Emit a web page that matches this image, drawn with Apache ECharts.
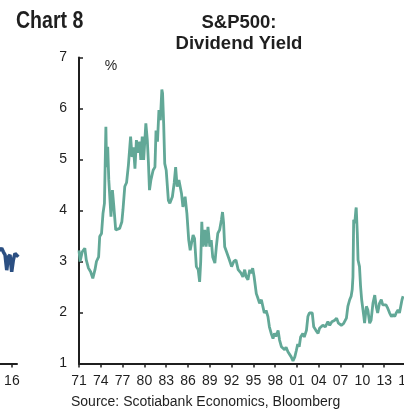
<!DOCTYPE html>
<html>
<head>
<meta charset="utf-8">
<script src="https://cdn.jsdelivr.net/npm/echarts@6/dist/echarts.min.js"></script>
<style>
  html, body { margin: 0; padding: 0; background: #ffffff; }
  #chart { width: 404px; height: 409px; }
</style>
</head>
<body>
<div id="chart"></div>
<script>
// S&P500 dividend yield, % (year as decimal, value)
const yieldYears = [
  1971.0, 1971.15, 1971.45, 1971.8, 1972.0, 1972.3, 1972.6, 1972.9, 1973.2, 1973.4,
  1973.7, 1973.85, 1974.1, 1974.3, 1974.5, 1974.7, 1974.8, 1974.95, 1975.1, 1975.4,
  1975.6, 1975.8, 1976.05, 1976.3, 1976.6, 1976.9, 1977.05, 1977.3, 1977.55, 1977.8,
  1978.1, 1978.3, 1978.5, 1978.7, 1978.9, 1979.2, 1979.35, 1979.5, 1979.7, 1979.9,
  1980.2, 1980.4, 1980.55, 1980.7, 1980.9, 1981.2, 1981.45, 1981.6, 1981.8, 1982.0,
  1982.2, 1982.4, 1982.5, 1982.65, 1982.8, 1983.0, 1983.3, 1983.5, 1983.85, 1984.1,
  1984.3, 1984.5, 1984.75, 1985.1, 1985.3, 1985.6, 1985.85, 1986.1, 1986.3, 1986.7,
  1986.9, 1987.15, 1987.4, 1987.6, 1987.75, 1987.9, 1988.05, 1988.3, 1988.5, 1988.75,
  1989.0, 1989.2, 1989.4, 1989.7, 1989.9, 1990.1, 1990.35, 1990.6, 1990.75, 1990.9,
  1991.05, 1991.3, 1991.5, 1991.7, 1992.0, 1992.3, 1992.6, 1992.9, 1993.1, 1993.3,
  1993.55, 1993.8, 1994.0, 1994.25, 1994.5, 1994.7, 1994.9, 1995.1, 1995.4, 1995.6,
  1995.85, 1996.1, 1996.3, 1996.5, 1996.75, 1997.0, 1997.2, 1997.45, 1997.7, 1997.9,
  1998.1, 1998.4, 1998.6, 1998.85, 1999.05, 1999.3, 1999.5, 1999.75, 2000.0, 2000.2,
  2000.45, 2000.7, 2000.9, 2001.1, 2001.3, 2001.5, 2001.8, 2002.0, 2002.3, 2002.5,
  2002.7, 2002.9, 2003.1, 2003.3, 2003.6, 2003.9, 2004.1, 2004.3, 2004.55, 2004.9,
  2005.25, 2005.5, 2005.8, 2006.0, 2006.2, 2006.45, 2006.7, 2006.9, 2007.1, 2007.4,
  2007.6, 2007.8, 2008.0, 2008.25, 2008.45, 2008.6, 2008.7, 2008.8, 2008.95, 2009.1,
  2009.15, 2009.3, 2009.4, 2009.6, 2009.75, 2009.9, 2010.2, 2010.3, 2010.55, 2010.75,
  2011.0, 2011.2, 2011.45, 2011.7, 2011.9, 2012.1, 2012.35, 2012.6, 2012.8, 2013.0,
  2013.25, 2013.5, 2013.75, 2014.0, 2014.2, 2014.45, 2014.65, 2014.9, 2015.1, 2015.3,
  2015.45, 2015.6
];
const yieldValues = [
  3.22, 3.00, 3.19, 3.26, 3.03, 2.87, 2.80, 2.67, 2.84, 3.00,
  3.09, 3.49, 3.55, 3.94, 4.14, 5.64, 4.85, 5.25, 4.60, 3.88,
  4.40, 4.07, 3.62, 3.59, 3.65, 3.78, 4.01, 4.47, 4.55, 4.89,
  5.45, 5.05, 5.24, 4.82, 5.38, 5.13, 5.35, 4.99, 5.45, 4.99,
  5.71, 5.38, 4.95, 4.40, 4.60, 4.79, 4.85, 5.57, 5.35, 5.97,
  5.77, 6.37, 6.30, 5.71, 4.92, 4.79, 4.20, 4.14, 4.27, 4.54,
  4.85, 4.47, 4.60, 4.34, 4.07, 4.27, 3.94, 3.42, 3.22, 3.52,
  3.45, 2.90, 2.84, 2.60, 3.00, 3.78, 3.29, 3.62, 3.29, 3.68,
  3.29, 3.42, 3.09, 2.97, 3.29, 3.55, 3.62, 3.82, 3.97, 3.75,
  3.29, 3.19, 3.22, 3.03, 2.90, 3.00, 3.03, 2.84, 2.83, 2.77,
  2.70, 2.84, 2.70, 2.64, 2.84, 2.77, 2.87, 2.70, 2.37, 2.29,
  2.18, 2.25, 2.12, 1.99, 2.04, 1.92, 1.72, 1.59, 1.49, 1.59,
  1.53, 1.65, 1.46, 1.33, 1.35, 1.27, 1.32, 1.23, 1.20, 1.13,
  1.05, 1.13, 1.25, 1.38, 1.33, 1.52, 1.59, 1.52, 1.65, 1.92,
  1.99, 1.96, 1.99, 1.72, 1.65, 1.59, 1.69, 1.66, 1.75, 1.72,
  1.82, 1.75, 1.82, 1.79, 1.85, 1.89, 1.79, 1.82, 1.75, 1.78,
  1.76, 1.89, 2.12, 2.25, 2.32, 2.45, 2.70, 3.82, 3.75, 4.01,
  4.06, 3.55, 3.03, 2.90, 2.51, 2.25, 1.92, 1.79, 2.12, 2.05,
  1.79, 1.85, 2.18, 2.34, 2.12, 1.99, 2.18, 2.25, 2.15, 2.12,
  2.15, 2.08, 1.99, 1.92, 1.96, 1.92, 1.99, 2.05, 1.99, 2.02,
  2.25, 2.32
];

// Tail of the neighbouring panel's series (left edge of the page)
const prevYears  = [2014.0, 2014.25, 2014.5, 2014.74, 2014.99, 2015.24, 2015.47, 2015.72, 2015.97, 2016.21, 2016.46, 2016.71, 2016.94];
const prevValues = [3.20, 3.23, 3.26, 3.19, 3.13, 2.83, 3.09, 3.13, 2.80, 3.03, 3.16, 3.19, 3.09];

// Axis settings
const yMin = 1, yMax = 7, yStep = 1;
const xMin = 1971, xMax = 2016, xStep = 3;

const FONT = '"Liberation Sans", Arial, sans-serif';
const INK = '#1f1f1f';

const chart = echarts.init(document.getElementById('chart'), null, { renderer: 'canvas' });

chart.setOption({
  animation: false,
  backgroundColor: '#ffffff',
  grid: [
    { left: 79, top: 57.5, width: 327, height: 306, containLabel: false, outerBoundsMode: 'none' },
    { left: 0, top: 57.5, width: 17, height: 306, containLabel: false, outerBoundsMode: 'none' }
  ],
  xAxis: [
    {
      gridIndex: 0,
      type: 'value',
      min: xMin, max: xMax, interval: xStep,
      axisLine: { show: true, lineStyle: { color: INK, width: 2 } },
      axisTick: { show: true, inside: false, length: 4, lineStyle: { color: INK, width: 1.5 } },
      axisLabel: {
        show: true, margin: 11, color: INK, fontSize: 14, fontFamily: FONT,
        showMinLabel: true, showMaxLabel: true, hideOverlap: false,
        formatter: v => String(Math.round(v)).slice(2)
      },
      splitLine: { show: false }
    },
    {
      gridIndex: 1,
      type: 'value',
      min: 2014.25, max: 2016.75,
      axisLine: { show: true, lineStyle: { color: INK, width: 2 } },
      axisTick: { show: true, inside: false, length: 4, customValues: [2016], lineStyle: { color: INK, width: 1.5 } },
      axisLabel: {
        show: true, margin: 11, color: INK, fontSize: 14, fontFamily: FONT,
        customValues: [2016],
        formatter: v => String(Math.round(v)).slice(2)
      },
      splitLine: { show: false }
    }
  ],
  yAxis: [
    {
      gridIndex: 0,
      type: 'value',
      min: yMin, max: yMax, interval: yStep,
      axisLine: { show: true, lineStyle: { color: INK, width: 2 } },
      axisTick: { show: true, inside: true, length: 4, lineStyle: { color: INK, width: 1.5 } },
      axisLabel: { show: true, margin: 12, color: INK, fontSize: 14, fontFamily: FONT },
      splitLine: { show: false }
    },
    {
      gridIndex: 1,
      type: 'value',
      min: yMin, max: yMax,
      show: false
    }
  ],
  series: [
    {
      type: 'line',
      xAxisIndex: 0, yAxisIndex: 0,
      data: yieldYears.map((t, i) => [t, yieldValues[i]]),
      showSymbol: false,
      clip: false,
      lineStyle: { color: '#62a897', width: 2.8 },
      emphasis: { disabled: true }
    },
    {
      type: 'line',
      xAxisIndex: 1, yAxisIndex: 1,
      data: prevYears.map((t, i) => [t, prevValues[i]]),
      showSymbol: false,
      clip: false,
      lineStyle: { color: '#2b4f82', width: 3.5 },
      emphasis: { disabled: true }
    }
  ],
  graphic: [
    {
      type: 'text', x: 16, y: 10, scaleX: 0.85,
      style: { text: 'Chart 8', font: 'bold 23px ' + FONT, fill: INK }
    },
    {
      type: 'text', x: 239, y: 12,
      style: {
        text: 'S&P500:\nDividend Yield', align: 'center', verticalAlign: 'top',
        font: 'bold 18.5px ' + FONT, lineHeight: 21, fill: INK
      }
    },
    {
      type: 'text', x: 111, y: 66,
      style: { text: '%', align: 'center', verticalAlign: 'middle', font: '14px ' + FONT, fill: INK }
    },
    {
      type: 'text', x: 71, y: 402,
      style: { text: 'Source: Scotiabank Economics, Bloomberg', align: 'left', verticalAlign: 'middle', font: '14px ' + FONT, fill: INK }
    }
  ]
});
</script>
</body>
</html>
